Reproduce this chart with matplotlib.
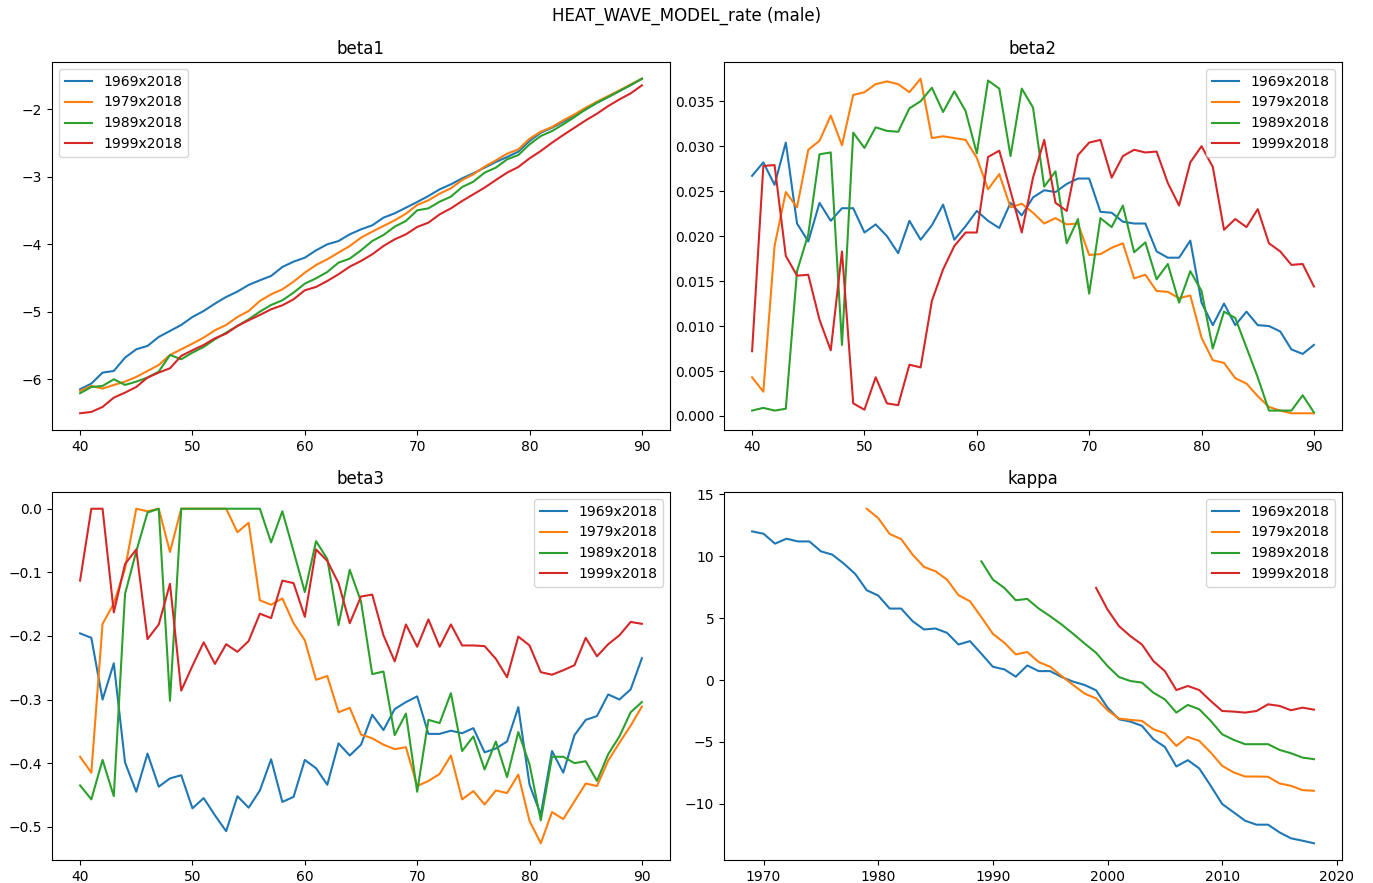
import numpy as np
import matplotlib
matplotlib.use("Agg")
import matplotlib.pyplot as plt

ages = list(range(40, 91))
labels = ["1969x2018", "1979x2018", "1989x2018", "1999x2018"]

beta1_1969 = [-6.148, -6.064, -5.901, -5.877, -5.679, -5.556, -5.506, -5.373, -5.284, -5.195,
              -5.077, -4.988, -4.879, -4.780, -4.701, -4.602, -4.533, -4.469, -4.336, -4.257,
              -4.198, -4.089, -4.000, -3.951, -3.852, -3.778, -3.719, -3.605, -3.541, -3.457,
              -3.373, -3.284, -3.185, -3.111, -3.022, -2.948, -2.864, -2.780, -2.706, -2.627,
              -2.469, -2.346, -2.272, -2.183, -2.089, -2.000, -1.901, -1.817, -1.728, -1.640, -1.546]
beta1_1979 = [-6.173, -6.099, -6.138, -6.084, -6.035, -5.965, -5.877, -5.788, -5.640, -5.556,
              -5.472, -5.383, -5.274, -5.195, -5.077, -4.988, -4.840, -4.741, -4.667, -4.553,
              -4.420, -4.306, -4.222, -4.123, -4.025, -3.901, -3.812, -3.728, -3.644, -3.546,
              -3.417, -3.348, -3.249, -3.170, -3.047, -2.963, -2.849, -2.756, -2.657, -2.593,
              -2.435, -2.331, -2.262, -2.163, -2.074, -1.975, -1.886, -1.802, -1.719, -1.630, -1.546]
beta1_1989 = [-6.207, -6.114, -6.099, -6.000, -6.084, -6.035, -5.975, -5.886, -5.640, -5.704,
              -5.605, -5.521, -5.407, -5.309, -5.210, -5.111, -4.998, -4.899, -4.830, -4.716,
              -4.583, -4.504, -4.410, -4.272, -4.212, -4.089, -3.951, -3.862, -3.738, -3.654,
              -3.496, -3.467, -3.368, -3.294, -3.151, -3.072, -2.938, -2.864, -2.741, -2.677,
              -2.519, -2.395, -2.321, -2.222, -2.114, -2.000, -1.901, -1.817, -1.728, -1.640, -1.546]
beta1_1999 = [-6.504, -6.484, -6.410, -6.272, -6.198, -6.114, -5.975, -5.901, -5.837, -5.654,
              -5.570, -5.491, -5.393, -5.323, -5.210, -5.126, -5.047, -4.963, -4.904, -4.815,
              -4.681, -4.632, -4.543, -4.444, -4.331, -4.247, -4.148, -4.025, -3.926, -3.852,
              -3.743, -3.679, -3.556, -3.467, -3.358, -3.259, -3.160, -3.047, -2.938, -2.854,
              -2.726, -2.617, -2.494, -2.380, -2.272, -2.163, -2.064, -1.951, -1.852, -1.763, -1.644]

beta2_1969 = [0.0267, 0.0282, 0.0257, 0.0304, 0.0214, 0.0194, 0.0237, 0.0217, 0.0231, 0.0231,
              0.0204, 0.0213, 0.0200, 0.0181, 0.0217, 0.0196, 0.0212, 0.0235, 0.0196, 0.0211,
              0.0228, 0.0217, 0.0209, 0.0237, 0.0223, 0.0243, 0.0251, 0.0249, 0.0258, 0.0264,
              0.0264, 0.0227, 0.0226, 0.0216, 0.0214, 0.0214, 0.0183, 0.0176, 0.0176, 0.0195,
              0.0126, 0.0101, 0.0125, 0.0101, 0.0116, 0.0101, 0.0100, 0.0094, 0.0074, 0.0069, 0.0079]
beta2_1979 = [0.0043, 0.0027, 0.0189, 0.0249, 0.0232, 0.0296, 0.0306, 0.0334, 0.0301, 0.0357,
              0.0360, 0.0369, 0.0372, 0.0369, 0.0360, 0.0375, 0.0309, 0.0311, 0.0309, 0.0307,
              0.0287, 0.0252, 0.0269, 0.0232, 0.0236, 0.0226, 0.0214, 0.0220, 0.0213, 0.0214,
              0.0179, 0.0180, 0.0187, 0.0192, 0.0153, 0.0157, 0.0139, 0.0138, 0.0131, 0.0134,
              0.0087, 0.0062, 0.0059, 0.0042, 0.0036, 0.0022, 0.0010, 0.0006, 0.0003, 0.0003, 0.0003]
beta2_1989 = [0.0006, 0.0009, 0.0006, 0.0008, 0.0161, 0.0202, 0.0291, 0.0293, 0.0079, 0.0315,
              0.0298, 0.0321, 0.0317, 0.0316, 0.0342, 0.0350, 0.0365, 0.0338, 0.0361, 0.0339,
              0.0292, 0.0373, 0.0364, 0.0289, 0.0364, 0.0343, 0.0255, 0.0272, 0.0192, 0.0219,
              0.0136, 0.0220, 0.0210, 0.0234, 0.0182, 0.0193, 0.0152, 0.0169, 0.0126, 0.0161,
              0.0139, 0.0075, 0.0116, 0.0109, 0.0076, 0.0043, 0.0006, 0.0006, 0.0006, 0.0023, 0.0004]
beta2_1999 = [0.0072, 0.0278, 0.0279, 0.0178, 0.0156, 0.0157, 0.0107, 0.0073, 0.0183, 0.0014,
              0.0007, 0.0043, 0.0014, 0.0012, 0.0057, 0.0054, 0.0128, 0.0163, 0.0189, 0.0204,
              0.0204, 0.0288, 0.0295, 0.0250, 0.0204, 0.0265, 0.0307, 0.0237, 0.0228, 0.0290,
              0.0304, 0.0307, 0.0265, 0.0289, 0.0296, 0.0293, 0.0294, 0.0259, 0.0234, 0.0282,
              0.0300, 0.0277, 0.0207, 0.0219, 0.0210, 0.0230, 0.0192, 0.0183, 0.0168, 0.0169, 0.0144]

beta3_1969 = [-0.196, -0.203, -0.300, -0.243, -0.399, -0.445, -0.385, -0.437, -0.424, -0.419,
              -0.471, -0.455, -0.482, -0.507, -0.452, -0.470, -0.443, -0.394, -0.461, -0.453,
              -0.395, -0.408, -0.434, -0.369, -0.388, -0.371, -0.324, -0.348, -0.315, -0.304,
              -0.295, -0.354, -0.354, -0.349, -0.353, -0.345, -0.383, -0.377, -0.366, -0.312,
              -0.434, -0.481, -0.381, -0.415, -0.356, -0.332, -0.326, -0.292, -0.300, -0.284, -0.235]
beta3_1979 = [-0.390, -0.415, -0.181, -0.149, -0.094, 0.000, -0.004, 0.000, -0.068, 0.000,
              0.000, 0.000, 0.000, 0.000, -0.037, -0.022, -0.144, -0.151, -0.141, -0.180,
              -0.207, -0.269, -0.263, -0.320, -0.313, -0.355, -0.361, -0.371, -0.378, -0.375,
              -0.436, -0.428, -0.417, -0.388, -0.457, -0.444, -0.465, -0.443, -0.447, -0.418,
              -0.491, -0.526, -0.477, -0.488, -0.460, -0.432, -0.436, -0.396, -0.368, -0.341, -0.311]
beta3_1989 = [-0.435, -0.457, -0.395, -0.452, -0.134, -0.067, -0.006, 0.000, -0.302, 0.000,
              0.000, 0.000, 0.000, 0.000, 0.000, 0.000, 0.000, -0.053, -0.004, -0.067,
              -0.131, -0.051, -0.079, -0.183, -0.096, -0.146, -0.260, -0.256, -0.356, -0.322,
              -0.445, -0.332, -0.337, -0.290, -0.381, -0.358, -0.410, -0.366, -0.422, -0.351,
              -0.402, -0.490, -0.390, -0.390, -0.400, -0.397, -0.428, -0.386, -0.358, -0.320, -0.304]
beta3_1999 = [-0.113, 0.000, 0.000, -0.163, -0.087, -0.064, -0.205, -0.182, -0.118, -0.286,
              -0.247, -0.210, -0.244, -0.213, -0.225, -0.208, -0.165, -0.172, -0.113, -0.117,
              -0.170, -0.064, -0.082, -0.117, -0.180, -0.138, -0.135, -0.199, -0.240, -0.182,
              -0.217, -0.174, -0.217, -0.182, -0.215, -0.215, -0.216, -0.236, -0.265, -0.201,
              -0.215, -0.257, -0.261, -0.254, -0.246, -0.203, -0.232, -0.213, -0.199, -0.178, -0.181]

years_1969 = list(range(1969, 2019))
years_1979 = list(range(1979, 2019))
years_1989 = list(range(1989, 2019))
years_1999 = list(range(1999, 2019))

kappa_1969 = [12.00, 11.81, 11.01, 11.41, 11.19, 11.19, 10.39, 10.12, 9.40, 8.56,
              7.25, 6.82, 5.77, 5.77, 4.75, 4.08, 4.16, 3.81, 2.87, 3.14,
              2.12, 1.07, 0.86, 0.27, 1.18, 0.72, 0.72, 0.24, -0.13, -0.40,
              -0.83, -2.23, -3.17, -3.36, -3.70, -4.78, -5.40, -6.98, -6.47, -7.14,
              -8.54, -10.01, -10.68, -11.36, -11.68, -11.68, -12.30, -12.78, -12.97, -13.18]
kappa_1979 = [13.83, 13.07, 11.79, 11.38, 10.12, 9.13, 8.78, 8.11, 6.85, 6.36,
              5.07, 3.73, 3.01, 2.07, 2.26, 1.45, 1.07, 0.32, -0.40, -1.10,
              -1.48, -2.44, -3.11, -3.22, -3.30, -3.97, -4.30, -5.32, -4.59, -4.91,
              -5.85, -6.93, -7.46, -7.79, -7.79, -7.81, -8.35, -8.54, -8.89, -8.94]
kappa_1989 = [9.58, 8.11, 7.44, 6.44, 6.55, 5.77, 5.15, 4.48, 3.73, 2.95,
              2.20, 1.13, 0.24, -0.08, -0.21, -1.02, -1.56, -2.63, -2.01, -2.36,
              -3.30, -4.38, -4.83, -5.18, -5.18, -5.18, -5.64, -5.91, -6.26, -6.39]
kappa_1999 = [7.44, 5.69, 4.35, 3.54, 2.87, 1.53, 0.72, -0.81, -0.48, -0.81,
              -1.69, -2.50, -2.55, -2.63, -2.50, -1.96, -2.09, -2.44, -2.23, -2.39]

W, H = 1373, 883
fig = plt.figure(figsize=(W / 100, H / 100), dpi=100)

def box(l, t, r, b):
    return [l / W, 1 - b / H, (r - l) / W, (b - t) / H]

ax1 = fig.add_axes(box(52, 62, 670, 430))
ax2 = fig.add_axes(box(724, 62, 1342, 430))
ax3 = fig.add_axes(box(52, 492, 670, 860))
ax4 = fig.add_axes(box(724, 492, 1342, 860))

for ys, lab in zip([beta1_1969, beta1_1979, beta1_1989, beta1_1999], labels):
    ax1.plot(ages, ys, label=lab)
ax1.set_title("beta1")
ax1.legend(loc="upper left")

for ys, lab in zip([beta2_1969, beta2_1979, beta2_1989, beta2_1999], labels):
    ax2.plot(ages, ys, label=lab)
ax2.set_title("beta2")
ax2.legend(loc="upper right")

for ys, lab in zip([beta3_1969, beta3_1979, beta3_1989, beta3_1999], labels):
    ax3.plot(ages, ys, label=lab)
ax3.set_title("beta3")
ax3.legend(loc="upper right")

for xs, ys, lab in zip([years_1969, years_1979, years_1989, years_1999],
                       [kappa_1969, kappa_1979, kappa_1989, kappa_1999], labels):
    ax4.plot(xs, ys, label=lab)
ax4.set_title("kappa")
ax4.legend(loc="upper right")

fig.suptitle("HEAT_WAVE_MODEL_rate (male)", y=1 - 16 / H, va="center", fontsize=12)

fig.savefig("out.png", dpi=100)
